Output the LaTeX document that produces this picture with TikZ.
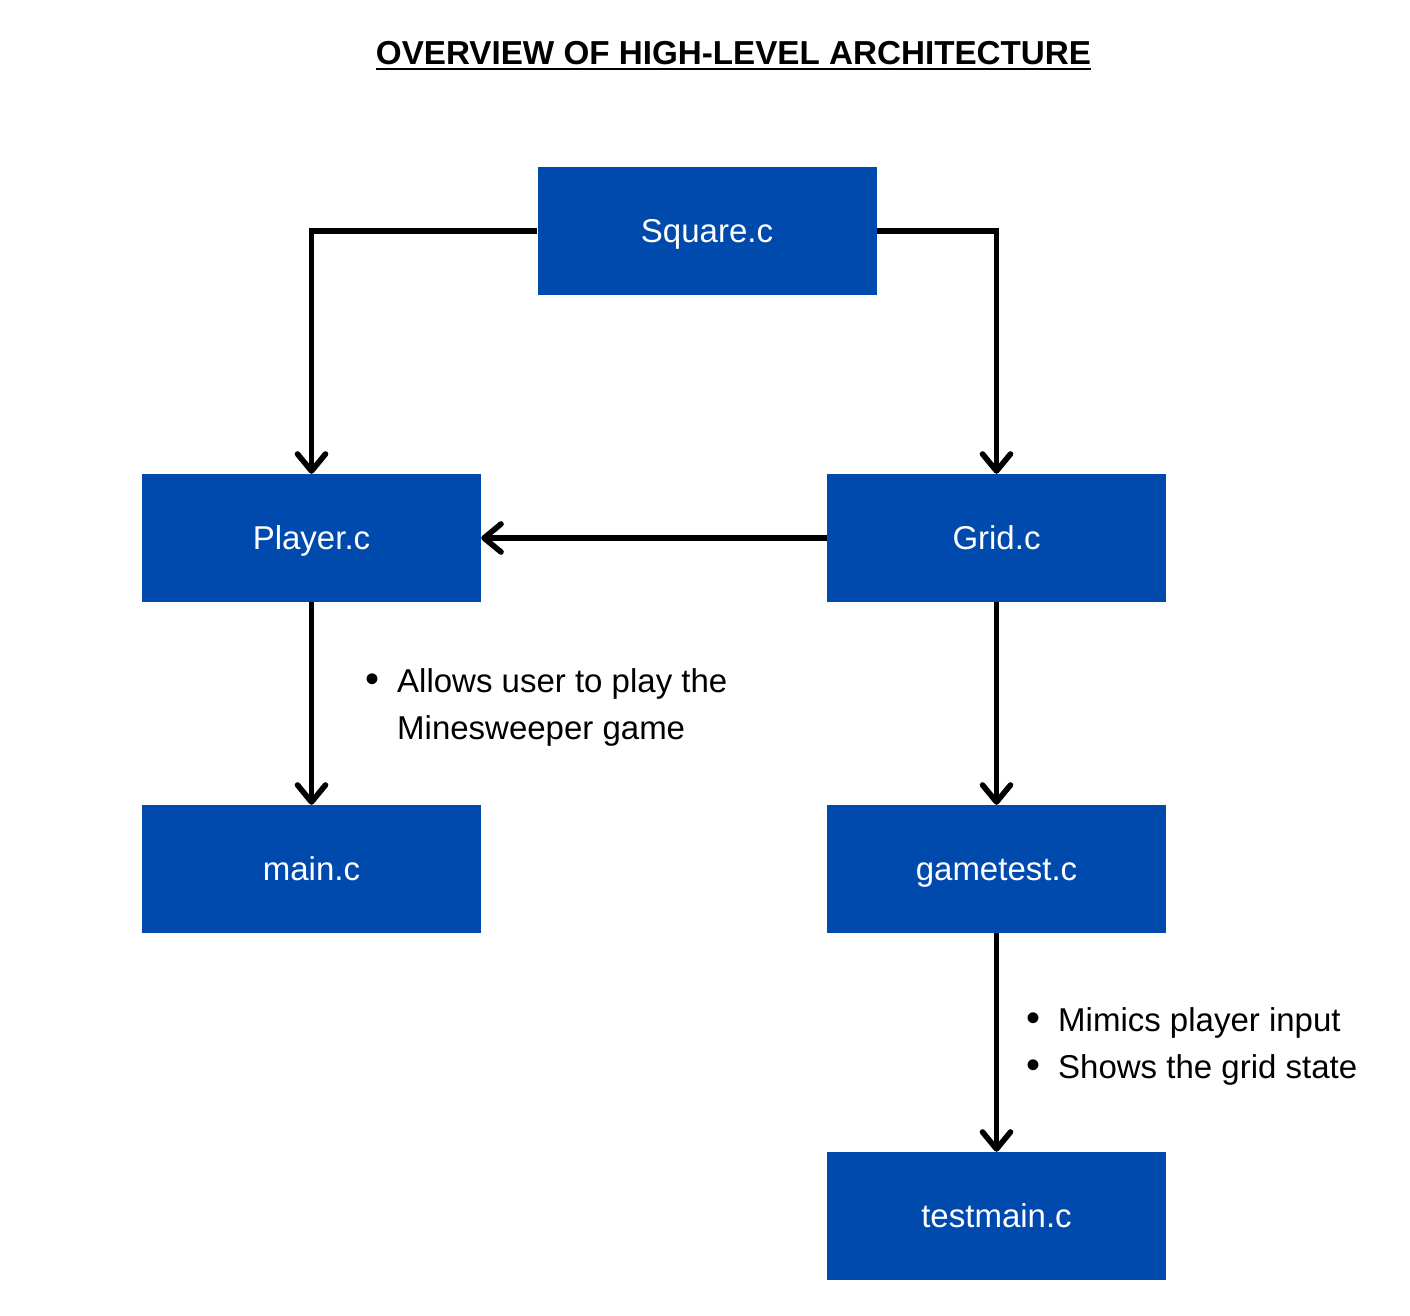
\documentclass[tikz,border=0pt]{standalone}
\usepackage{fontspec}
\setmainfont{Liberation Sans}
\usetikzlibrary{arrows.meta}
\definecolor{boxblue}{HTML}{004AAD}
\tikzset{
  filebox/.style={fill=boxblue, draw=none, minimum width=339pt, minimum height=128pt,
    inner sep=0pt, text=white, font=\fontsize{33}{40}\selectfont,
    text height=23.6pt, text depth=0pt},
  arr/.style={line width=5.6pt, -{Straight Barb[length=17pt,width=28pt,round]}},
  notes/.style={anchor=base west, inner sep=0pt, align=left, font=\fontsize{33}{47}\selectfont},
}
\newcommand{\bul}{\llap{\makebox[32pt][l]{\fontsize{40}{40}\selectfont •}}}
\begin{document}
\begin{tikzpicture}[x=1pt,y=-1pt]
\useasboundingbox (0,0) rectangle (1410,1316);
\node[anchor=base, inner sep=0pt, font=\bfseries\fontsize{33.2}{40}\selectfont] (title) at (733.5,65) {OVERVIEW OF HIGH-LEVEL ARCHITECTURE};
\draw[line width=2.6pt] ([yshift=-4pt]title.base west) -- ([yshift=-4pt]title.base east);

\node[filebox] (sq) at (707,231) {Square.c};
\node[filebox] (pl) at (311.5,538) {Player.c};
\node[filebox] (gr) at (996.5,538) {Grid.c};
\node[filebox] (mn) at (311.5,869) {main.c};
\node[filebox] (gt) at (996.5,869) {gametest.c};
\node[filebox] (tm) at (996.5,1216) {testmain.c};

\draw[arr] (sq.west) -| (pl.north);
\draw[arr] (sq.east) -| (gr.north);
\draw[arr] (gr.west) -- (pl.east);
\draw[arr] (pl.south) -- (mn.north);
\draw[arr] (gr.south) -- (gt.north);
\draw[arr] (gt.south) -- (tm.north);

\node[notes] (n1) at (397,739) {\bul Allows user to play the\\Minesweeper game};
\node[notes] (n2) at (1058,1078) {\bul Mimics player input\\\bul Shows the grid state};
\end{tikzpicture}
\end{document}
